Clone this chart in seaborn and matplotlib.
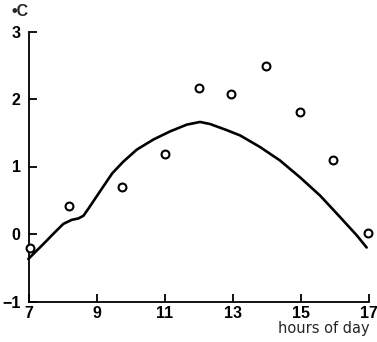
import matplotlib
matplotlib.use("Agg")
import matplotlib.pyplot as plt
import seaborn as sns
import pandas as pd

# observed temperature points (open circles)
obs_hour = [7.03, 8.18, 9.74, 11.0, 12.0, 12.94, 13.96, 14.97, 15.94, 16.97]
obs_temp = [-0.21, 0.41, 0.69, 1.18, 2.16, 2.07, 2.49, 1.81, 1.10, 0.02]

# model curve
curve_hour = [6.98, 7.18, 7.42, 7.71, 8.01, 8.26, 8.45, 8.60, 8.74, 8.94, 9.14,
              9.45, 9.77, 10.17, 10.66, 11.15, 11.64, 12.03, 12.32, 12.81,
              13.21, 13.79, 14.38, 14.97, 15.56, 16.15, 16.64, 16.93]
curve_temp = [-0.37, -0.27, -0.15, 0.00, 0.15, 0.21, 0.23, 0.27, 0.37, 0.52, 0.67,
              0.90, 1.07, 1.25, 1.40, 1.52, 1.62, 1.66, 1.63, 1.54,
              1.46, 1.29, 1.09, 0.84, 0.57, 0.25, -0.02, -0.20]

xticks = [7, 9, 11, 13, 15, 17]
yticks = [-1, 0, 1, 2, 3]

sns.set_style("ticks")
plt.rcParams["font.family"] = ["Liberation Sans", "DejaVu Sans"]

fig = plt.figure(figsize=(3.77, 3.42), dpi=100)
ax = fig.add_axes([29/377, 1 - 301.5/342, 340/377, 270/342])

curve = pd.DataFrame({"hour": curve_hour, "temp": curve_temp})
obs = pd.DataFrame({"hour": obs_hour, "temp": obs_temp})

sns.lineplot(data=curve, x="hour", y="temp", ax=ax, color="black", lw=1.9,
             sort=False, estimator=None)
sns.scatterplot(data=obs, x="hour", y="temp", ax=ax, marker="o", s=32,
                facecolor="white", edgecolor="black", linewidth=1.5, zorder=3)

ax.set_xlim(7, 17)
ax.set_ylim(-1, 3)
ax.set_xticks(xticks)
ax.set_yticks(yticks)
ax.set_xticklabels([str(t) for t in xticks])
ax.set_yticklabels(["\u22121" if t < 0 else str(t) for t in yticks])
for s in ["top", "right"]:
    ax.spines[s].set_visible(False)
for s in ["left", "bottom"]:
    ax.spines[s].set_linewidth(1.3)
    ax.spines[s].set_color("black")
ax.tick_params(direction="in", length=6, width=1.3, colors="black",
               labelsize=11.5)
ax.tick_params(axis="y", pad=6)
ax.tick_params(axis="x", pad=3)
for lab in ax.get_xticklabels() + ax.get_yticklabels():
    lab.set_fontweight("bold")
ax.set_xlabel("")
ax.set_ylabel("")
ax.patch.set_alpha(0)
for c in ax.collections + ax.lines:
    c.set_clip_on(False)

fig.text(12/377, 1 - 12/342, "\u2022C", fontsize=11.5, fontweight="bold",
         va="center", ha="left")
fig.text(370/377, 1 - 333/342, "hours of day", fontsize=10.5,
         family=["DejaVu Sans"], va="baseline", ha="right")

fig.savefig("out.png", dpi=100)
